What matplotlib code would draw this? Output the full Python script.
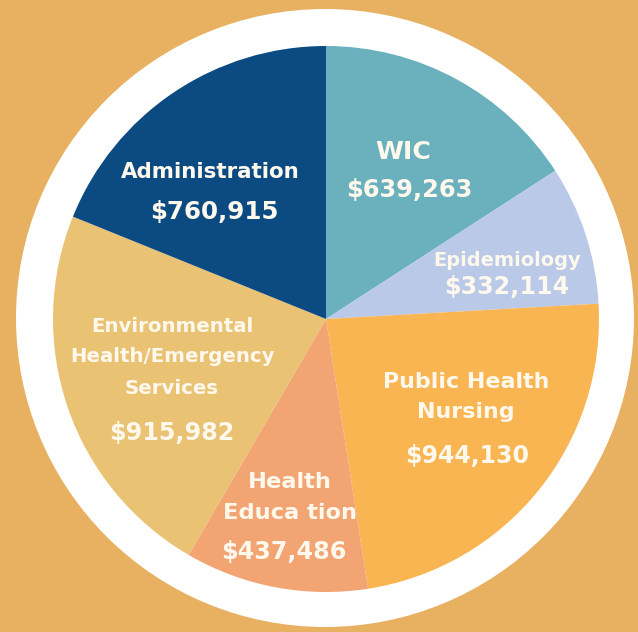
import matplotlib
matplotlib.use("Agg")
import matplotlib.pyplot as plt
from matplotlib.patches import Circle

# Data (clockwise from 12 o'clock)
categories = ["WIC", "Epidemiology", "Public Health\nNursing", "Health\nEduca tion",
              "Environmental\nHealth/Emergency\nServices", "Administration"]
values = [639263, 332114, 944130, 437486, 915982, 760915]
value_labels = ["$639,263", "$332,114", "$944,130", "$437,486", "$915,982", "$760,915"]
colors = ["#6BB1BD", "#B9C9E7", "#F8B552", "#F3A473", "#EAC274", "#0C4A82"]

W, H = 638, 632
BG = "#E8B061"
TXT = "#FFF8EC"

fig = plt.figure(figsize=(W / 100, H / 100), dpi=100, facecolor=BG)
ax = fig.add_axes([0, 0, 1, 1])
ax.set_facecolor(BG)

def py(y):
    return H - y

cx, cy = 326, 319
ax.add_patch(Circle((325, py(318)), 309, facecolor="white", edgecolor="none", zorder=1))
wedges, _ = ax.pie(values, colors=colors, startangle=90, counterclock=False,
                   center=(cx, py(cy)), radius=273, frame=True,
                   wedgeprops=dict(linewidth=0))
for w in wedges:
    w.set_zorder(2)
ax.set_xlim(0, W)
ax.set_ylim(0, H)
ax.set_aspect("equal")
ax.axis("off")

renderer = fig.canvas.get_renderer()

def size_for(s, width):
    t = ax.text(0, 0, s, fontsize=14, fontweight="bold", family="DejaVu Sans")
    w = t.get_window_extent(renderer).width
    t.remove()
    return 14 * width / w

def put(x, y, s, size):
    ax.text(x, py(y), s, ha="center", va="center", color=TXT, fontsize=size,
            fontweight="bold", family="DejaVu Sans", zorder=5)

def block(x, ys, s, ref_idx, ref_width):
    parts = s.split("\n")
    size = size_for(parts[ref_idx], ref_width)
    for yy, part in zip(ys, parts):
        put(x, yy, part, size)

# name labels
block(210, [172], categories[5], 0, 180)
block(403, [152], categories[0], 0, 56)
block(507, [261], categories[1], 0, 148)
block(466, [382, 412], categories[2], 0, 166)
block(290, [482, 513], categories[3], 1, 134)
block(172, [327, 357, 388], categories[4], 1, 205)

# value labels
block(214, [212], value_labels[5], 0, 129)
block(409, [190], value_labels[0], 0, 127)
block(507, [287], value_labels[1], 0, 126)
block(467, [456], value_labels[2], 0, 124)
block(284, [552], value_labels[3], 0, 126)
block(172, [433], value_labels[4], 0, 126)

fig.savefig("out.png", dpi=100, facecolor=BG)
